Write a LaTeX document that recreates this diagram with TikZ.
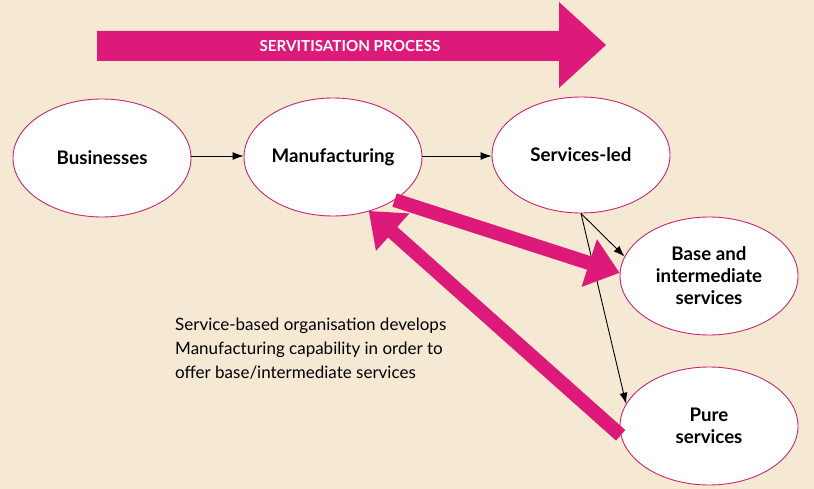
\documentclass[tikz,border=0pt]{standalone}
\usepackage{fontspec}
\setmainfont{Lato}
\usetikzlibrary{arrows.meta,shapes.geometric}
\definecolor{bg}{RGB}{245,233,212}
\definecolor{pinkc}{RGB}{221,26,122}
\definecolor{edgec}{RGB}{200,40,110}
\tikzset{
  oval/.style={ellipse, draw=edgec, line width=0.9pt, fill=white, inner sep=0pt,
    align=center, font=\fontsize{18.7}{22}\selectfont\bfseries,
    minimum width=178pt, minimum height=118pt},
  thinarrow/.style={-{Latex[length=11pt,width=8pt]}, line width=0.9pt, black},
  pinkarrow/.style={-{Triangle[length=32pt,width=48pt]}, line width=14pt, draw=pinkc},
}
\begin{document}
\begin{tikzpicture}[x=1pt,y=-1pt]
\fill[bg] (0,0) rectangle (814,489);
\useasboundingbox (0,0) rectangle (814,489);
% servitisation arrow
\fill[pinkc] (97,31) -- (559,31) -- (559,2) -- (606,45) -- (559,88) -- (559,61) -- (97,61) -- cycle;
\node[text=white, font=\fontsize{15.2}{17}\selectfont\bfseries] (proc) at (350,46) {SERVITISATION PROCESS};
% nodes
\node[oval] (bus) at (102,158) {Businesses};
\node[oval] (manu) at (333,157) {Manufacturing};
\node[oval, minimum height=116pt] (serv) at (581,155) {Services-led};
\node[oval] (base) at (709,276) {Base and\\intermediate\\services};
\node[oval] (pure) at (709,426) {Pure\\services};
% thin arrows
\draw[thinarrow] (bus.east |- 0,156) -- (manu.west |- 0,156);
\draw[thinarrow] (manu.east |- 0,156) -- (serv.west |- 0,156);
\draw[thinarrow] (serv.south) -- (base.167);
\draw[thinarrow] (serv.south) -- (pure.165);
% pink arrows
\draw[pinkarrow] (manu.-35) -- (base.178);
\draw[pinkarrow] (pure.186) -- ([shift={(-2pt,0pt)}]manu.-55);
% text
\node[anchor=north west, align=left, font=\fontsize{17}{24}\selectfont, inner sep=0pt] (txt) at (175,318)
  {Service-based organisation develops\\Manufacturing capability in order to\\offer base/intermediate services};
\end{tikzpicture}
\end{document}
